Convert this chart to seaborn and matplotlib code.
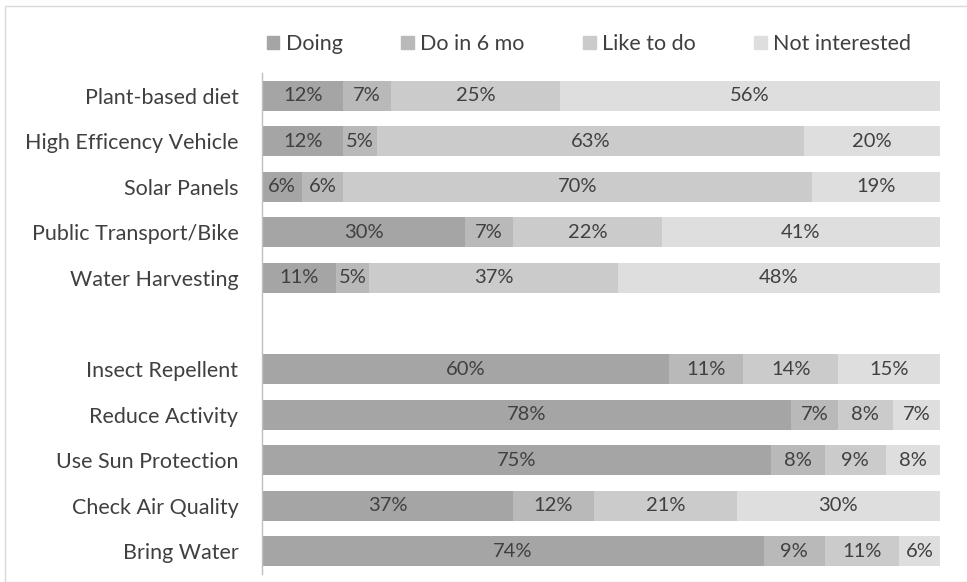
import matplotlib
matplotlib.use("Agg")
import matplotlib.pyplot as plt
import matplotlib.patches as mpatches
import seaborn as sns
import pandas as pd
import numpy as np

categories = ["Plant-based diet", "High Efficency Vehicle", "Solar Panels",
              "Public Transport/Bike", "Water Harvesting", " ",
              "Insect Repellent", "Reduce Activity", "Use Sun Protection",
              "Check Air Quality", "Bring Water"]
series = ["Doing", "Do in 6 mo", "Like to do", "Not interested"]
doing = [12, 12, 6, 30, 11, None, 60, 78, 75, 37, 74]
do6 = [7, 5, 6, 7, 5, None, 11, 7, 8, 12, 9]
like = [25, 63, 70, 22, 37, None, 14, 8, 9, 21, 11]
notint = [56, 20, 19, 41, 48, None, 15, 7, 8, 30, 6]
colors = ["#a5a5a5", "#b9b9b9", "#cbcbcb", "#dedede"]

sns.set_theme(style="white")
plt.rcParams["font.family"] = ["Lato", "DejaVu Sans"]
text_color = "#404040"

rows = []
for i, c in enumerate(categories):
    if doing[i] is None:
        continue
    vals = [doing[i], do6[i], like[i], notint[i]]
    tot = sum(vals)
    cum = 0
    for s, v in zip(series, vals):
        left = cum / tot * 100
        cum += v
        rows.append(dict(category=c, series=s, value=v, left=left,
                         right=cum / tot * 100))
df = pd.DataFrame(rows)

fig = plt.figure(figsize=(9.67, 5.82), dpi=100)
ax = fig.add_axes([262 / 967, 1 - 574 / 582, (940 - 262) / 967, (574 - 73) / 582])

for s, col in reversed(list(zip(series, colors))):
    sub = df[df["series"] == s]
    sns.barplot(data=sub, x="right", y="category", order=categories, orient="h",
                color=col, saturation=1, width=0.66, ax=ax, label=s,
                edgecolor="none", linewidth=0)

for _, r in df.iterrows():
    yi = categories.index(r["category"])
    ax.text((r["left"] + r["right"]) / 2, yi, f"{r['value']}%", ha="center",
            va="center", fontsize=14.5, color=text_color)

ax.set_xlim(0, 100)
ax.set_ylim(len(categories) - 0.5, -0.5)
ax.set_xlabel("")
ax.set_ylabel("")
ax.set_xticks([])
ax.tick_params(axis="y", length=0, pad=17, labelsize=15.5, labelcolor=text_color)
for sp in ["top", "right", "bottom"]:
    ax.spines[sp].set_visible(False)
ax.spines["left"].set_color("#bfbfbf")
ax.spines["left"].set_linewidth(1)

handles = [mpatches.Patch(color=c, label=s) for s, c in zip(series, colors)]
if ax.get_legend():
    ax.get_legend().remove()
fig.legend(handles=handles, loc="center", ncol=4,
           bbox_to_anchor=(589 / 967, 1 - 44 / 582), frameon=False,
           fontsize=15.5, labelcolor=text_color, handlelength=0.6,
           handleheight=0.6, handletextpad=0.3, columnspacing=2.7)

fig.patches.append(mpatches.Rectangle((5 / 967, 0), 1, 1 - 6 / 582,
                                      transform=fig.transFigure, fill=False,
                                      edgecolor="#d9d9d9", linewidth=1))

fig.savefig("out.png", dpi=100)
